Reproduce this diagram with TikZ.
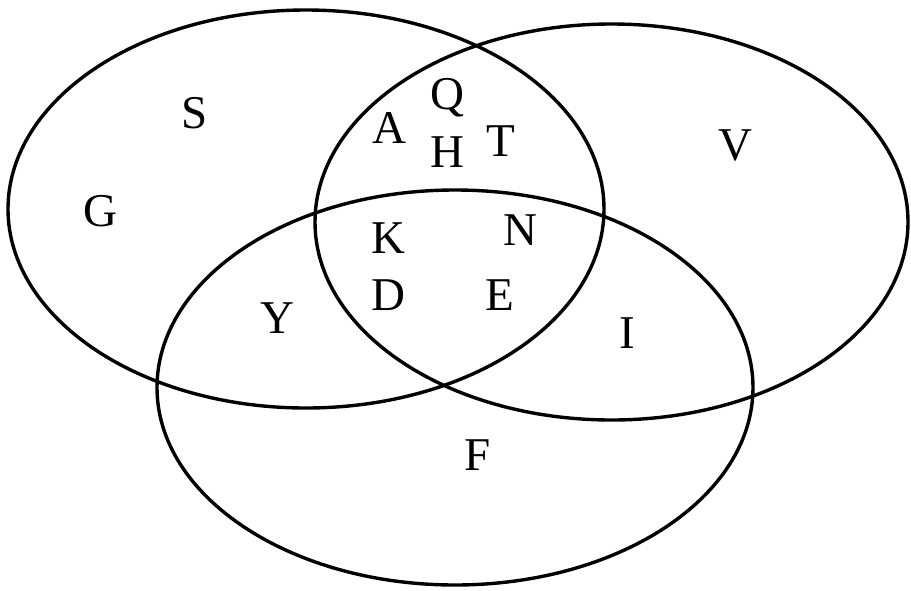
\documentclass[tikz,border=0pt]{standalone}
\usepackage{fontspec}
\setmainfont{Liberation Serif}
\begin{document}
\begin{tikzpicture}[x=1pt,y=-1pt,
  setring/.style={line width=3.4pt, black},
  lab/.style={font=\fontsize{47}{47}\selectfont, inner sep=0pt, text height=31pt, text depth=0pt}]
\useasboundingbox (0,0) rectangle (911,590);
\draw[setring] (306,209) ellipse [x radius=298, y radius=199];
\draw[setring] (611.5,222) ellipse [x radius=296.5, y radius=198];
\draw[setring] (455,387.5) ellipse [x radius=298, y radius=197.5];
\node[lab] (S) at (195,113) {S};
\node[lab] (G) at (100,211) {G};
\node[lab] (A) at (389,128) {A};
\node[lab] (Q) at (447,94) {Q};
\node[lab] (H) at (447,152) {H};
\node[lab] (T) at (501,141) {T};
\node[lab] (V) at (735,145) {V};
\node[lab] (K) at (388,238) {K};
\node[lab] (N) at (520,230) {N};
\node[lab] (D) at (388,295) {D};
\node[lab] (E) at (500,295) {E};
\node[lab] (Y) at (277,318) {Y};
\node[lab] (I) at (627,333) {I};
\node[lab] (F) at (478,455) {F};
\end{tikzpicture}
\end{document}
